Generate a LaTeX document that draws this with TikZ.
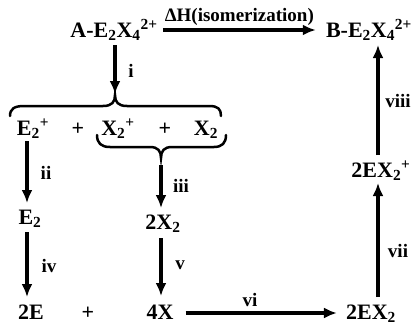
\documentclass[tikz,border=0pt]{standalone}
\usepackage{fontspec}
\setmainfont{Liberation Serif}
\usetikzlibrary{arrows.meta}
\begin{document}
\begin{tikzpicture}[x=1pt,y=-1pt,
  chem/.style={inner sep=0pt,anchor=base,font=\fontsize{22}{24}\selectfont\bfseries},
  lab/.style={inner sep=0pt,anchor=base,font=\fontsize{19}{21}\selectfont\bfseries},
  arr/.style={line width=3.2pt,-{Latex[length=13pt,width=11pt]}},
  brc/.style={line width=2.5pt,line cap=round}]
\useasboundingbox (0,0) rectangle (420,324);
% species
\node[chem] (A) at (114,37) {A-E\textsubscript{2}X\textsubscript{4}\textsuperscript{2+}};
\node[chem] (B) at (369,37) {B-E\textsubscript{2}X\textsubscript{4}\textsuperscript{2+}};
\node[chem] (E2p) at (33,135) {E\textsubscript{2}\textsuperscript{+}};
\node[chem] (p1) at (78,135) {+};
\node[chem] (X2p) at (118,135) {X\textsubscript{2}\textsuperscript{+}};
\node[chem] (p2) at (165,135) {+};
\node[chem] (X2) at (206,135) {X\textsubscript{2}};
\node[chem] (E2) at (30,224) {E\textsubscript{2}};
\node[chem] (X22) at (163,229) {2X\textsubscript{2}};
\node[chem] (E2b) at (31,319) {2E};
\node[chem] (p3) at (88,319) {+};
\node[chem] (X4) at (160,319) {4X};
\node[chem] (EX2) at (371,319) {2EX\textsubscript{2}};
\node[chem] (EX2p) at (381,177) {2EX\textsubscript{2}\textsuperscript{+}};
% columns
\coordinate (cI) at (115,0);
\coordinate (cII) at (27,0);
\coordinate (cIII) at (161,0);
\coordinate (cR) at (378,0);
\coordinate (tipTop) at (115,95);
\coordinate (tipBot) at (161,158);
% braces
\draw[brc] (10,116) .. controls (10,109) and (14,106) .. (24,106) -- (103,106)
  .. controls (112,106) and (115,102) .. (tipTop)
  .. controls (115,102) and (118,106) .. (127,106) -- (209,106)
  .. controls (218,106) and (221,109) .. (221,116);
\draw[brc] (97,135) .. controls (97,143) and (101,147) .. (110,147) -- (150,147)
  .. controls (158,147) and (161,151) .. (tipBot)
  .. controls (161,151) and (164,147) .. (172,147) -- (214,147)
  .. controls (222,147) and (226,143) .. (226,135);
% arrows
\draw[arr] ([xshift=5pt,yshift=7pt]A.base east) -- ([xshift=-10pt,yshift=7pt]B.base west)
  node[lab,midway,above=3pt,anchor=south] {ΔH(isomerization)};
\draw[arr] ([yshift=-8pt]A.base -| cI) -- ([yshift=1pt]tipTop);
\draw[arr] ([yshift=-6pt]E2p.base -| cII) -- ([yshift=21pt]E2.base -| cII);
\draw[arr] ([yshift=-7pt]tipBot) -- ([yshift=21pt]X22.base -| cIII);
\draw[arr] ([yshift=-8pt]E2.base -| cII) -- ([yshift=22pt]E2b.base -| cII);
\draw[arr] ([yshift=-9pt]X22.base -| cIII) -- ([yshift=23pt]X4.base -| cIII);
\draw[arr] ([xshift=12pt,yshift=6pt]X4.base east) -- ([xshift=-9pt,yshift=6pt]EX2.base west);
\draw[arr] ([yshift=22pt]EX2.base -| cR) -- ([yshift=-6pt]EX2p.base -| cR);
\draw[arr] ([yshift=22pt]EX2p.base -| cR) -- ([yshift=-8pt]B.base -| cR);
% labels
\node[lab] (li) at (131,77) {i};
\node[lab] (lii) at (46,179) {ii};
\node[lab] (liii) at (181,192) {iii};
\node[lab] (liv) at (49,272) {iv};
\node[lab] (lv) at (180,269) {v};
\node[lab] (lvi) at (250,306) {vi};
\node[lab] (lvii) at (398,257) {vii};
\node[lab] (lviii) at (398,107) {viii};
\end{tikzpicture}
\end{document}
